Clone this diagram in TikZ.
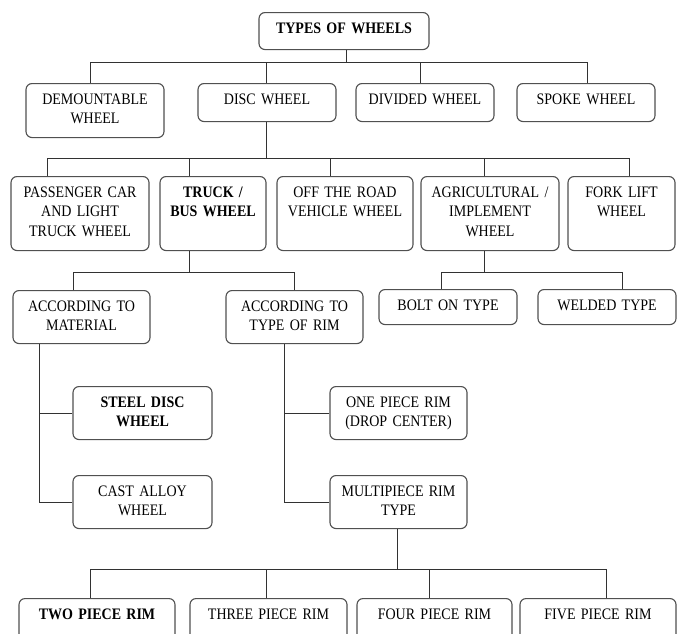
\documentclass[tikz,border=0pt]{standalone}
\usepackage{fontspec}
\setmainfont{Liberation Serif}[FakeStretch=0.875]
\usetikzlibrary{calc}
\definecolor{boxline}{RGB}{80, 80, 80}
\definecolor{linkline}{RGB}{50, 50, 50}

\begin{document}
\begin{tikzpicture}[
	x=1pt, y=-1pt,
	% Styles
	wbox/.style={draw=boxline, line width=1.1pt, rounded corners=6pt, fill=white, align=center, anchor=north,
		inner xsep=2pt, inner ysep=0pt, text height=20.5pt, font=\fontsize{16}{19.5}\selectfont},
	boldbox/.style={wbox, font=\fontsize{16}{19.5}\selectfont\bfseries},
	link/.style={draw=linkline, line width=1pt}
	]
	
	\useasboundingbox (0,0) rectangle (681,633);
	\clip (0,0) rectangle (681,633);
	
	% ==========================================
	% Bus levels
	% ==========================================
	\coordinate (busA) at (0,62);
	\coordinate (busB) at (0,158);
	\coordinate (busC) at (0,272);
	\coordinate (busD) at (0,569);
	
	% ==========================================
	% Level 0 and 1
	% ==========================================
	\node[boldbox, text width=166pt, text depth=16.5pt] (root) at (344,12) {TYPES OF WHEELS};
	
	\node[wbox, text width=134pt, text depth=33.5pt] (demount) at (95,83) {DEMOUNTABLE\\WHEEL};
	\node[wbox, text width=134pt, text depth=17.5pt] (disc) at (267,83) {DISC WHEEL};
	\node[wbox, text width=134pt, text depth=17.5pt] (divided) at (425,83) {DIVIDED WHEEL};
	\node[wbox, text width=134pt, text depth=17.5pt] (spoke) at (586,83) {SPOKE WHEEL};
	
	% ==========================================
	% Level 2: disc wheel types
	% ==========================================
	\node[wbox, text width=134pt, text depth=53.5pt] (passenger) at (80,176) {PASSENGER CAR\\AND LIGHT\\TRUCK WHEEL};
	\node[boldbox, text width=102pt, text depth=53.5pt] (truck) at (213,176) {TRUCK /\\BUS WHEEL};
	\node[wbox, text width=132pt, text depth=53.5pt] (offroad) at (345,176) {OFF THE ROAD\\VEHICLE WHEEL};
	\node[wbox, text width=134pt, text depth=53.5pt] (agri) at (490,176) {AGRICULTURAL /\\IMPLEMENT\\WHEEL};
	\node[wbox, text width=103pt, text depth=53.5pt] (forklift) at (621.5,176) {FORK LIFT\\WHEEL};
	
	% ==========================================
	% Level 3
	% ==========================================
	\node[wbox, text width=133pt, text depth=32.5pt] (material) at (81.5,290) {ACCORDING TO\\MATERIAL};
	\node[wbox, text width=133pt, text depth=32.5pt] (rim) at (294.5,290) {ACCORDING TO\\TYPE OF RIM};
	\node[wbox, text width=134pt, text depth=14.5pt] (bolt) at (448,289) {BOLT ON TYPE};
	\node[wbox, text width=134pt, text depth=14.5pt] (welded) at (607,289) {WELDED TYPE};
	
	\node[boldbox, text width=135pt, text depth=32.5pt] (steel) at (142.5,386) {STEEL DISC\\WHEEL};
	\node[wbox, text width=135pt, text depth=32.5pt] (cast) at (142.5,475) {CAST ALLOY\\WHEEL};
	\node[wbox, text width=133pt, text depth=32.5pt] (onepiece) at (398.5,386) {ONE PIECE RIM\\(DROP CENTER)};
	\node[wbox, text width=133pt, text depth=32.5pt] (multi) at (398.5,475) {MULTIPIECE RIM\\TYPE};
	
	% ==========================================
	% Level 4: multipiece rims
	% ==========================================
	\node[boldbox, text width=152pt, text depth=39.5pt] (two) at (97,598) {TWO PIECE RIM};
	\node[wbox, text width=153pt, text depth=39.5pt] (three) at (268.5,598) {THREE PIECE RIM};
	\node[wbox, text width=151pt, text depth=39.5pt] (four) at (434.5,598) {FOUR PIECE RIM};
	\node[wbox, text width=152pt, text depth=39.5pt] (five) at (598,598) {FIVE PIECE RIM};
	
	% ==========================================
	% Connectors
	% ==========================================
	% root -> level 1
	\draw[link] ([xshift=2pt]root.south) -- ([xshift=2pt]root.south |- busA);
	\draw[link] ([xshift=-5pt]demount.north) |- ([xshift=2pt]root.south |- busA);
	\draw[link] ([xshift=-1pt]disc.north) |- ([xshift=2pt]root.south |- busA);
	\draw[link] ([xshift=-5pt]divided.north) |- ([xshift=2pt]root.south |- busA);
	\draw[link] ([xshift=1pt]spoke.north) |- ([xshift=2pt]root.south |- busA);
	
	% disc -> level 2
	\draw[link] ([xshift=-1pt]disc.south) -- ([xshift=-1pt]disc.south |- busB);
	\draw[link] ([xshift=-33pt]passenger.north) |- ([xshift=-1pt]disc.south |- busB);
	\draw[link] ([xshift=-24pt]truck.north) |- ([xshift=-1pt]disc.south |- busB);
	\draw[link] ([xshift=-15pt]offroad.north) |- ([xshift=-1pt]disc.south |- busB);
	\draw[link] ([xshift=-6pt]agri.north) |- ([xshift=-1pt]disc.south |- busB);
	\draw[link] ([xshift=7.5pt]forklift.north) |- ([xshift=-1pt]disc.south |- busB);
	
	% truck -> according to
	\draw[link] ([xshift=-24pt]truck.south) -- ([xshift=-24pt]truck.south |- busC);
	\draw[link] ([xshift=-8.5pt]material.north) |- ([xshift=-24pt]truck.south |- busC);
	\draw[link] (rim.north) |- ([xshift=-24pt]truck.south |- busC);
	
	% agricultural -> bolt on / welded
	\draw[link] ([xshift=-6pt]agri.south) -- ([xshift=-6pt]agri.south |- busC);
	\draw[link] ([xshift=-7pt]bolt.north) |- ([xshift=-6pt]agri.south |- busC);
	\draw[link] ([xshift=15pt]welded.north) |- ([xshift=-6pt]agri.south |- busC);
	
	% material -> steel / cast
	\draw[link] ([xshift=-42.5pt]material.south) |- (cast.west);
	\draw[link] (steel.west) -| ([xshift=-42.5pt]material.south);
	
	% type of rim -> one piece / multipiece
	\draw[link] ([xshift=-10.5pt]rim.south) |- (multi.west);
	\draw[link] (onepiece.west) -| ([xshift=-10.5pt]rim.south);
	
	% multipiece -> level 4
	\draw[link] ([xshift=-1.5pt]multi.south) -- ([xshift=-1.5pt]multi.south |- busD);
	\draw[link] ([xshift=-7pt]two.north) |- ([xshift=-1.5pt]multi.south |- busD);
	\draw[link] ([xshift=-2.5pt]three.north) |- ([xshift=-1.5pt]multi.south |- busD);
	\draw[link] ([xshift=-5.5pt]four.north) |- ([xshift=-1.5pt]multi.south |- busD);
	\draw[link] ([xshift=8pt]five.north) |- ([xshift=-1.5pt]multi.south |- busD);
	
\end{tikzpicture}
\end{document}
